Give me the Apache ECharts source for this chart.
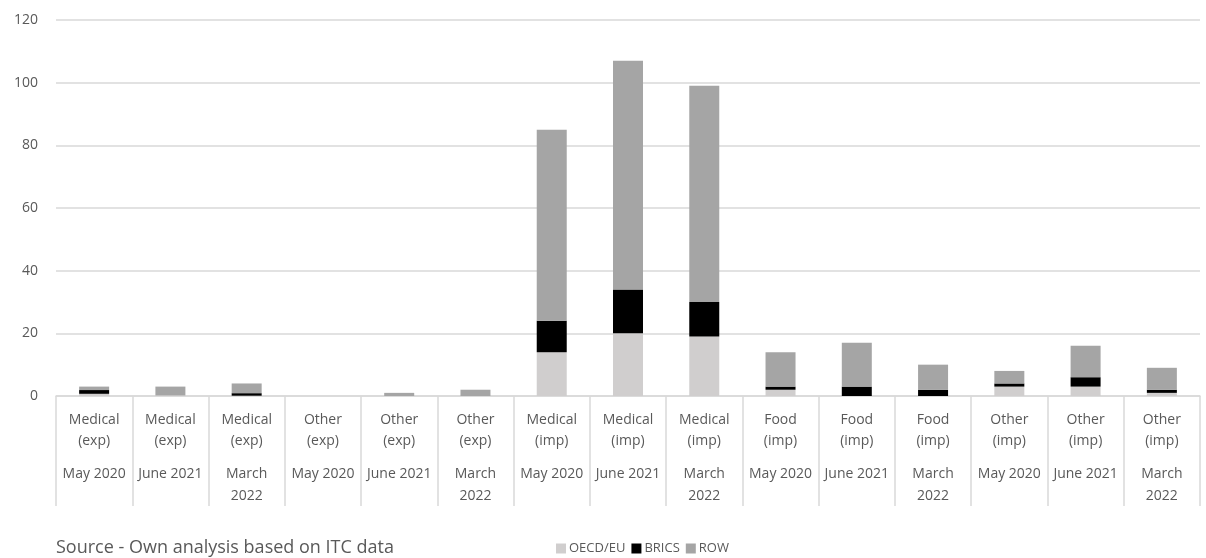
<!DOCTYPE html>
<html>
<head>
<meta charset="utf-8">
<script src="https://cdn.jsdelivr.net/npm/echarts@6/dist/echarts.min.js"></script>
<style>
  html, body { margin: 0; padding: 0; background: #fff; }
  #main { width: 1206px; height: 558px; }
</style>
</head>
<body>
<div id="main"></div>
<script>
// categories: product group + period
var products = ['Medical', 'Medical', 'Medical', 'Other', 'Other', 'Other',
    'Medical', 'Medical', 'Medical', 'Food', 'Food', 'Food',
    'Other', 'Other', 'Other'];
var flows = ['(exp)', '(exp)', '(exp)', '(exp)', '(exp)', '(exp)',
    '(imp)', '(imp)', '(imp)', '(imp)', '(imp)', '(imp)',
    '(imp)', '(imp)', '(imp)'];
var periods = ['May 2020', 'June 2021', 'March\n2022', 'May 2020', 'June 2021', 'March\n2022',
    'May 2020', 'June 2021', 'March\n2022', 'May 2020', 'June 2021', 'March\n2022',
    'May 2020', 'June 2021', 'March\n2022'];

// values
var oecd  = [0.7, 0.2, 0.1, 0, 0, 0, 14, 20, 19, 2, 0, 0, 3, 3, 1];
var brics = [1.2, 0, 0.8, 0, 0, 0, 10, 14, 11, 1, 3, 2, 1, 3, 1];
var row   = [1.1, 2.8, 3.1, 0, 1, 2, 61, 73, 69, 11, 14, 8, 4, 10, 7];

var yTicks = [0, 20, 40, 60, 80, 100, 120];

var categories = [];
for (var i = 0; i < products.length; i++) {
    categories.push(i);
}

var myChart = echarts.init(document.getElementById('main'));
var font = 'Open Sans, sans-serif';

myChart.setOption({
    animation: false,
    textStyle: { fontFamily: font },
    title: {
        text: 'Source - Own analysis based on ITC data',
        left: 51,
        top: 534,
        textStyle: { fontSize: 18, fontWeight: 'normal', color: '#595959', fontFamily: font }
    },
    legend: {
        left: 551,
        top: 537,
        itemWidth: 10,
        itemHeight: 10,
        itemGap: 6,
        icon: 'rect',
        textStyle: { fontSize: 13, color: '#595959', fontFamily: font, padding: [0, 0, 0, -2] },
        data: ['OECD/EU', 'BRICS', 'ROW']
    },
    grid: { left: 56, right: 6, top: 20, bottom: 162 },
    xAxis: {
        type: 'category',
        data: categories,
        axisLine: { lineStyle: { color: '#d9d9d9', width: 1.5 } },
        axisTick: { show: true, interval: 0, length: 110, lineStyle: { color: '#d9d9d9', width: 1.5 } },
        axisLabel: {
            interval: 0,
            margin: 14,
            formatter: function (v, idx) {
                var p = periods[idx].split('\n').map(function (s) { return '{b|' + s + '}'; }).join('\n');
                return '{a|' + products[idx] + '}\n{a|' + flows[idx] + '}\n{s|}\n' + p;
            },
            rich: {
                a: { fontSize: 14, lineHeight: 21, color: '#595959', fontFamily: font },
                s: { fontSize: 10, lineHeight: 11 },
                b: { fontSize: 14, lineHeight: 22, color: '#595959', fontFamily: font }
            }
        }
    },
    yAxis: {
        type: 'value',
        min: yTicks[0],
        max: yTicks[yTicks.length - 1],
        interval: 20,
        axisLine: { show: false },
        axisTick: { show: false },
        axisLabel: { fontSize: 14, color: '#595959', margin: 18, fontFamily: font },
        splitLine: { lineStyle: { color: '#d9d9d9', width: 1.5 } }
    },
    series: [
        { name: 'OECD/EU', type: 'bar', stack: 'all', barWidth: 30, itemStyle: { color: '#d0cece' }, data: oecd },
        { name: 'BRICS', type: 'bar', stack: 'all', barWidth: 30, itemStyle: { color: '#000000' }, data: brics },
        { name: 'ROW', type: 'bar', stack: 'all', barWidth: 30, itemStyle: { color: '#a5a5a5' }, data: row }
    ]
});
</script>
</body>
</html>
